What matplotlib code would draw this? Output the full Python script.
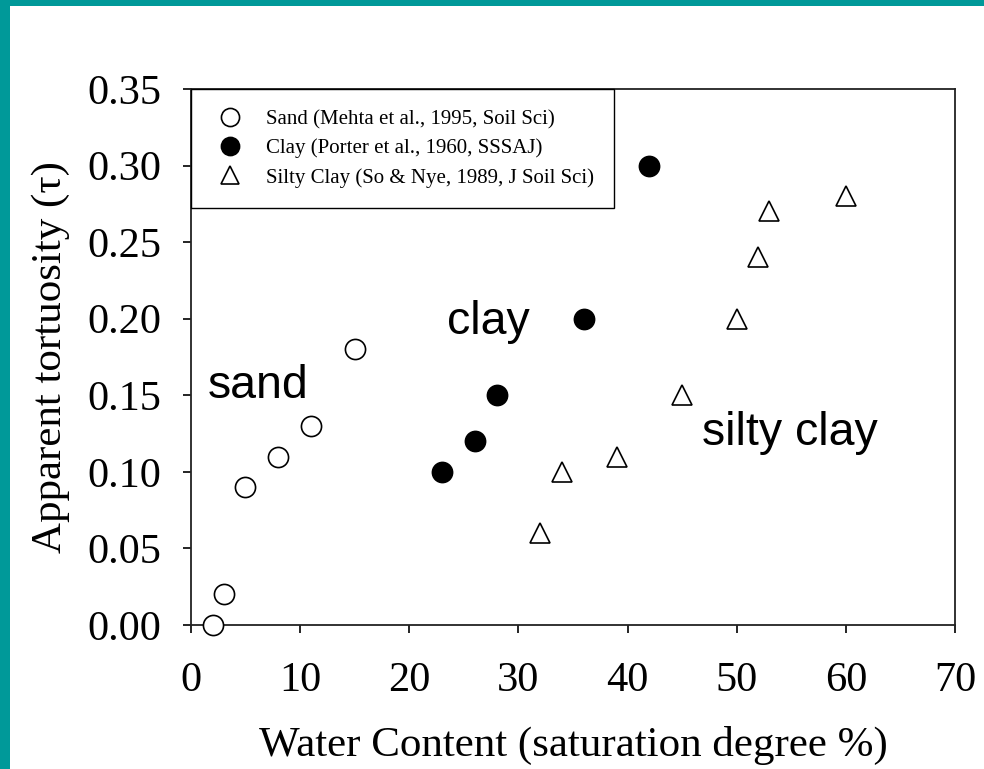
import matplotlib
matplotlib.use("Agg")
import matplotlib.pyplot as plt
from matplotlib.patches import Rectangle

# sand (Mehta et al., 1995)
sand_x = [2, 3, 5, 8, 11, 15]
sand_y = [0.00, 0.02, 0.09, 0.11, 0.13, 0.18]

# clay (Porter et al., 1960)
clay_x = [23, 26, 28, 32, 36, 42]
clay_y = [0.10, 0.12, 0.15, 0.28, 0.20, 0.30]

# silty clay (So & Nye, 1989)
silty_x = [32, 34, 39, 45, 50, 52, 53, 60]
silty_y = [0.06, 0.10, 0.11, 0.15, 0.20, 0.24, 0.27, 0.28]

x_ticks = [0, 10, 20, 30, 40, 50, 60, 70]
y_ticks = [0.00, 0.05, 0.10, 0.15, 0.20, 0.25, 0.30, 0.35]

TEAL  = "#009999"
SERIF = "Liberation Serif"
SANS  = "Liberation Sans"

fig = plt.figure(figsize=(9.84, 7.69), dpi=100, facecolor="white")

# teal frame along the top and left edges
fig.patches.append(Rectangle((0, 0), 10 / 984, 1, transform=fig.transFigure,
                             facecolor=TEAL, edgecolor="none", zorder=0))
fig.patches.append(Rectangle((0, 1 - 6 / 769), 1, 6 / 769, transform=fig.transFigure,
                             facecolor=TEAL, edgecolor="none", zorder=0))

ax = fig.add_axes([0.194, 0.1873, 0.7765, 0.697])

ms = 14.5
ax.plot(sand_x, sand_y, "o", ms=ms, mfc="white", mec="black", mew=1.2,
        label="Sand (Mehta et al., 1995, Soil Sci)", clip_on=False, zorder=3)
ax.plot(clay_x, clay_y, "o", ms=ms, mfc="black", mec="black", mew=1.2,
        label="Clay (Porter et al., 1960, SSSAJ)", clip_on=False, zorder=3)
ax.plot(silty_x, silty_y, "^", ms=ms, mfc="white", mec="black", mew=1.2,
        label="Silty Clay (So & Nye, 1989, J Soil Sci)", clip_on=False, zorder=3)

ax.set_xlim(0, 70)
ax.set_ylim(0, 0.35)
ax.set_xticks(x_ticks)
ax.set_yticks(y_ticks)
ax.set_xticklabels([str(v) for v in x_ticks], fontfamily=SERIF, fontsize=30.5)
ax.set_yticklabels([f"{v:.2f}" for v in y_ticks], fontfamily=SERIF, fontsize=30.5)
ax.tick_params(direction="out", length=6, width=1.2, colors="black")
ax.tick_params(axis="y", pad=15)
ax.tick_params(axis="x", pad=20)

for s in ax.spines.values():
    s.set_linewidth(1.3)
    s.set_color("#222222")

ax.set_xlabel("Water Content (saturation degree %)", fontfamily=SERIF,
              fontsize=31, labelpad=19)
ax.set_ylabel("Apparent tortuosity (\u03c4)", fontfamily=SERIF,
              fontsize=31, labelpad=13)

# soil class labels
ax.text(1.5, 0.148, "sand", fontfamily=SANS, fontsize=33.5, ha="left", va="baseline")
ax.text(23.5, 0.19, "clay", fontfamily=SANS, fontsize=33.5, ha="left", va="baseline")
ax.text(46.8, 0.1176, "silty clay", fontfamily=SANS, fontsize=33.5, ha="left", va="baseline")

leg = ax.legend(loc="upper left", bbox_to_anchor=(0, 1, 0.554, 0), mode="expand",
                borderaxespad=0, prop={"family": SERIF, "size": 15},
                fancybox=False, framealpha=1, edgecolor="black",
                markerscale=0.9, handletextpad=0.8, borderpad=1.0,
                labelspacing=0.45, handlelength=1.8)
leg.get_frame().set_linewidth(1.0)
leg.set_zorder(5)

fig.savefig("out.png", dpi=100, facecolor="white")
